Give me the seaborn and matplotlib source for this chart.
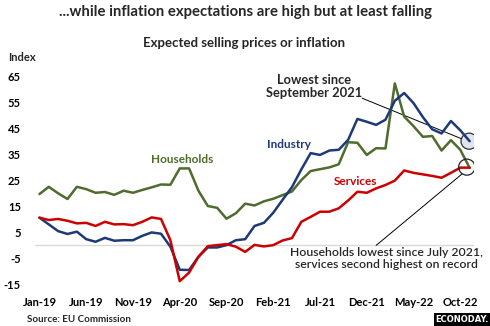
import matplotlib
matplotlib.use("Agg")
import matplotlib.pyplot as plt
from matplotlib.patches import Ellipse, Rectangle
import numpy as np
import pandas as pd
import seaborn as sns

# Monthly index values, Jan-2019 .. Nov-2022
months = pd.period_range("2019-01", "2022-11", freq="M")
households = [19.8, 22.6, 20.1, 17.9, 22.6, 21.7, 20.3, 20.6, 19.5, 21.1, 20.3, 21.4,
              22.4, 23.5, 23.4, 29.7, 29.7, 21.1, 15.2, 14.5, 10.3, 12.4, 16.1, 15.4,
              17.0, 18.0, 19.4, 20.8, 25.2, 28.7, 29.4, 30.1, 31.3, 39.8, 39.6, 34.9,
              37.5, 37.4, 62.5, 49.7, 46.0, 41.9, 42.2, 36.6, 40.6, 36.9, 29.9]
industry = [10.7, 8.1, 5.5, 4.4, 5.3, 2.4, 1.4, 2.9, 1.8, 2.0, 2.0, 3.7,
            5.0, 4.5, -0.5, -9.4, -9.5, -4.4, -0.8, -0.8, 0.1, 2.0, 2.4, 7.5,
            8.7, 12.6, 17.6, 22.5, 29.3, 35.6, 34.9, 36.6, 36.9, 40.7, 48.8, 47.7,
            46.5, 48.5, 55.8, 58.8, 54.9, 49.5, 44.8, 43.2, 48.0, 44.4, 40.2]
services = [10.7, 9.8, 10.2, 9.5, 8.5, 8.7, 7.5, 9.1, 8.1, 8.2, 7.8, 9.1,
            10.8, 10.2, 2.0, -13.8, -10.5, -4.4, -0.3, 0.1, 0.5, -0.5, -2.5, 0.2,
            -0.4, 0.1, 1.9, 2.8, 9.1, 11.0, 13.0, 13.0, 14.3, 17.3, 20.7, 20.3,
            22.0, 23.3, 25.0, 28.9, 28.0, 27.4, 26.8, 26.1, 28.0, 30.0, 30.0]
series_names = ["Households", "Industry", "Services"]
y_ticks = [-15, -5, 5, 15, 25, 35, 45, 55, 65]

colors = {"Households": "#4f6b2d", "Industry": "#1c3a78", "Services": "#cc0000"}

idx = np.arange(len(months))
df = pd.DataFrame({
    "t": np.tile(idx, 3),
    "value": households + industry + services,
    "series": np.repeat(series_names, len(months)),
})

sns.set_theme(style="white")
plt.rcParams["font.family"] = ["Lato", "DejaVu Sans"]

fig = plt.figure(figsize=(4.9, 3.26), dpi=100)
ax = fig.add_axes([0.071, 0.128, 0.897, 0.636])

ax.axhline(0, color="#d9d9d9", lw=1.0, zorder=1)
sns.lineplot(data=df, x="t", y="value", hue="series", palette=colors,
             linewidth=1.8, legend=False, ax=ax, zorder=3)

ax.set_xlim(-0.5, 46.5)
ax.set_ylim(-15, 65)
ax.set_yticks(y_ticks)
ax.set_yticklabels([str(v) for v in y_ticks], fontsize=8, fontweight="bold")
tick_pos = idx[::5]
ax.set_xticks(tick_pos)
ax.set_xticklabels([months[i].strftime("%b-%y") for i in tick_pos],
                   fontsize=8, fontweight="bold")
ax.tick_params(axis="both", length=0, colors="black")
ax.tick_params(axis="x", pad=9)
ax.tick_params(axis="y", pad=10)
for s in ax.spines.values():
    s.set_visible(False)
ax.set_xlabel("")
ax.set_ylabel("")

# series labels
ax.text(15.3, 33.0, "Households", color=colors["Households"], fontsize=8.5,
        fontweight="bold", ha="center", va="center")
ax.text(26.7, 38.8, "Industry", color=colors["Industry"], fontsize=8.5,
        fontweight="bold", ha="center", va="center")
ax.text(33.8, 24.7, "Services", color=colors["Services"], fontsize=8.5,
        fontweight="bold", ha="center", va="center")

# highlight circles on the latest readings
last = len(months) - 1
ax.add_patch(Ellipse((last - 0.05, industry[-1]), 1.75, 6.2, facecolor="#dfe4ee",
                     edgecolor="#333333", lw=0.9, zorder=2))
ax.add_patch(Ellipse((last - 0.3, 30.2), 1.75, 6.2, facecolor="none",
                     edgecolor="#222222", lw=0.9, zorder=4))

ax.plot([34.5, last - 0.9], [56.8, 41.2], color="black", lw=0.7, zorder=2)
ax.plot([36.0, last - 0.8], [0.0, 27.6], color="black", lw=0.7, zorder=2)

ax.text(29.4, 61.3, "Lowest since\nSeptember 2021", fontsize=9.3, ha="center",
        va="center", linespacing=1.1, fontweight="bold")
ax.text(37.1, -5.0, "Households lowest since July 2021,\nservices second highest on record",
        fontsize=8.8, ha="center", va="center", linespacing=1.15, fontweight="semibold")

# titles and footer
fig.text(0.5, 0.962, "...while inflation expectations are high but at least falling",
         ha="center", va="center", fontsize=10.7, fontweight="bold")
fig.text(0.497, 0.868, "Expected selling prices or inflation",
         ha="center", va="center", fontsize=9.5, fontweight="bold")
fig.text(0.016, 0.825, "Index", ha="left", va="center", fontsize=8, fontweight="bold")
fig.text(0.055, 0.021, "Source: EU Commission", ha="left", va="center",
         fontsize=7, fontweight="bold")
fig.add_artist(Rectangle((0.886, 0.0), 0.114, 0.041, transform=fig.transFigure,
                         facecolor="black", edgecolor="none"))
fig.text(0.943, 0.021, "ECONODAY.", ha="center", va="center", fontsize=6,
         fontweight="bold", color="white", family="DejaVu Sans")

fig.savefig("out.png", dpi=100)
